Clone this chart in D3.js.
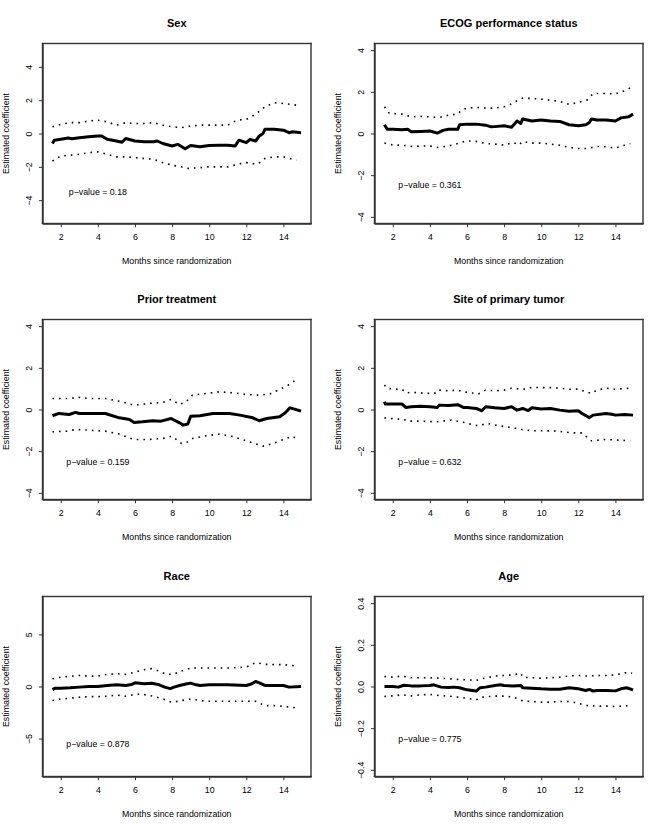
<!DOCTYPE html>
<html>
<head>
<meta charset="utf-8">
<script src="https://cdn.jsdelivr.net/npm/d3@7"></script>
<style>
  body { margin: 0; background: #fff; }
  svg { display: block; }
  text { font-family: "Liberation Sans", Arial, Helvetica, sans-serif; fill: #000; }
</style>
</head>
<body>
<div id="chart"></div>
<script>
// ---- data (months, estimated coefficient) ----
var titles = ["Sex", "ECOG performance status", "Prior treatment",
              "Site of primary tumor", "Race", "Age"];
var pValues = ["0.18", "0.361", "0.159", "0.632", "0.878", "0.775"];
var pLabelY = [-3.5, -2.45, -2.5, -2.5, -5.5, -0.25];
var yLimits = [[-5, 5], [-4, 4], [-4, 4], [-4, 4], [-8, 8], [-0.4, 0.4]];
var yTickValues = [[-4, -2, 0, 2, 4], [-4, -2, 0, 2, 4], [-4, -2, 0, 2, 4],
                   [-4, -2, 0, 2, 4], [-5, 0, 5], [-0.4, -0.2, 0, 0.2, 0.4]];
var xTickValues = [2, 4, 6, 8, 10, 12, 14];
var timeRange = [1.55, 14.95];

var sexEst = [[1.55,-0.6],[1.65,-0.4],[2.0,-0.34],[2.4,-0.27],[2.6,-0.32],[3.0,-0.25],[3.5,-0.2],[4.0,-0.15],[4.2,-0.15],[4.5,-0.35],[5.0,-0.45],[5.3,-0.52],[5.5,-0.3],[6.0,-0.45],[6.5,-0.5],[7.0,-0.5],[7.2,-0.45],[7.5,-0.6],[8.0,-0.75],[8.3,-0.65],[8.7,-0.92],[9.0,-0.72],[9.5,-0.8],[10.0,-0.72],[10.5,-0.7],[11.0,-0.7],[11.4,-0.75],[11.6,-0.4],[12.0,-0.55],[12.2,-0.35],[12.5,-0.45],[12.7,-0.15],[12.9,0],[13.0,0.25],[13.5,0.25],[14.0,0.2],[14.3,0.05],[14.5,0.1],[14.95,0.05]];
var sexUpper = [[1.55,0.4],[2.0,0.55],[2.5,0.65],[3.0,0.65],[3.5,0.75],[4.0,0.8],[4.5,0.7],[5.0,0.5],[5.5,0.65],[6.0,0.6],[6.5,0.6],[7.0,0.65],[7.5,0.5],[8.0,0.4],[8.5,0.35],[9.0,0.45],[9.5,0.5],[10.0,0.5],[10.5,0.5],[11.0,0.5],[11.5,0.8],[12.0,0.85],[12.5,1.15],[13.0,1.6],[13.5,1.85],[14.0,1.8],[14.7,1.7]];
var sexLower = [[1.55,-1.65],[2.0,-1.35],[2.5,-1.3],[3.0,-1.25],[3.5,-1.15],[4.0,-1.1],[4.5,-1.25],[5.0,-1.4],[5.5,-1.4],[6.0,-1.45],[6.5,-1.5],[7.0,-1.55],[7.5,-1.75],[8.0,-1.9],[8.5,-2.0],[8.8,-2.1],[9.5,-2.05],[10.0,-2.0],[10.5,-2.0],[11.0,-2.0],[11.5,-1.85],[12.0,-1.75],[12.6,-1.85],[13.0,-1.5],[13.5,-1.4],[14.0,-1.4],[14.7,-1.6]];

var ecogEst = [[1.55,0.42],[1.7,0.2],[2.0,0.2],[2.5,0.18],[2.8,0.2],[3.0,0.08],[3.5,0.1],[4.0,0.12],[4.4,0.02],[4.7,0.15],[5.0,0.2],[5.5,0.2],[5.6,0.42],[6.0,0.45],[6.5,0.45],[7.0,0.4],[7.3,0.32],[7.5,0.33],[8.0,0.37],[8.4,0.3],[8.7,0.6],[8.9,0.48],[9.0,0.7],[9.5,0.6],[10.0,0.65],[10.5,0.6],[11.0,0.58],[11.5,0.42],[12.0,0.37],[12.4,0.42],[12.6,0.53],[12.7,0.7],[13.0,0.65],[13.5,0.65],[14.0,0.6],[14.3,0.75],[14.7,0.8],[14.95,0.93]];
var ecogUpper = [[1.55,1.28],[1.8,0.98],[2.0,0.96],[2.5,0.93],[3.0,0.8],[3.5,0.82],[4.0,0.8],[4.5,0.77],[5.0,0.88],[5.5,0.93],[5.7,1.12],[6.0,1.22],[6.5,1.25],[7.0,1.22],[7.5,1.22],[8.0,1.28],[8.3,1.38],[8.7,1.57],[9.0,1.7],[9.5,1.68],[10.0,1.65],[10.5,1.6],[11.0,1.54],[11.5,1.4],[12.0,1.49],[12.5,1.62],[12.8,1.92],[13.5,1.92],[14.0,1.9],[14.5,2.05],[14.9,2.24]];
var ecogLower = [[1.55,-0.46],[2.0,-0.55],[2.5,-0.56],[3.0,-0.62],[3.5,-0.6],[4.0,-0.6],[4.4,-0.67],[5.0,-0.6],[5.5,-0.48],[6.0,-0.35],[6.5,-0.38],[7.0,-0.48],[7.5,-0.51],[8.0,-0.56],[8.5,-0.43],[8.8,-0.55],[9.0,-0.38],[9.5,-0.46],[10.0,-0.46],[10.5,-0.51],[11.0,-0.56],[11.5,-0.67],[12.0,-0.72],[12.5,-0.72],[13.0,-0.62],[13.5,-0.64],[14.0,-0.7],[14.5,-0.56],[14.8,-0.48]];

var priorEst = [[1.55,-0.3],[1.9,-0.19],[2.45,-0.24],[2.8,-0.14],[3.0,-0.19],[3.5,-0.19],[4.4,-0.19],[5.15,-0.4],[5.7,-0.48],[5.95,-0.62],[6.4,-0.59],[6.95,-0.54],[7.4,-0.56],[7.95,-0.43],[8.4,-0.64],[8.6,-0.75],[8.85,-0.7],[9.0,-0.32],[9.5,-0.3],[10.2,-0.19],[11.1,-0.19],[11.65,-0.27],[12.35,-0.4],[12.7,-0.54],[13.1,-0.43],[13.8,-0.35],[14.1,-0.16],[14.35,0.08],[14.6,0.02],[14.95,-0.08]];
var priorUpper = [[1.55,0.53],[2.0,0.53],[2.6,0.53],[2.8,0.6],[3.5,0.53],[4.4,0.53],[5.3,0.37],[5.95,0.2],[6.75,0.29],[7.5,0.34],[7.95,0.48],[8.4,0.24],[8.75,0.37],[9.1,0.69],[9.85,0.77],[10.55,0.85],[11.3,0.8],[12.0,0.72],[12.7,0.69],[13.25,0.74],[13.8,0.96],[14.25,1.17],[14.6,1.38]];
var priorLower = [[1.55,-1.07],[2.3,-1.04],[2.8,-0.96],[3.5,-0.99],[4.4,-1.04],[5.15,-1.18],[5.95,-1.44],[6.75,-1.44],[7.5,-1.39],[8.0,-1.28],[8.5,-1.63],[8.75,-1.6],[9.1,-1.39],[9.85,-1.26],[10.55,-1.18],[11.3,-1.31],[12.0,-1.5],[12.9,-1.76],[13.45,-1.63],[14.15,-1.39],[14.5,-1.28],[14.75,-1.44]];

var siteEst = [[1.55,0.37],[1.6,0.26],[2.0,0.26],[2.5,0.26],[2.7,0.1],[3.0,0.13],[3.5,0.16],[4.0,0.13],[4.4,0.1],[4.5,0.21],[5.0,0.19],[5.5,0.23],[5.8,0.1],[6.0,0.1],[6.5,0.05],[6.8,-0.06],[7.0,0.13],[7.5,0.08],[8.0,0.05],[8.4,0.13],[8.7,-0.03],[9.0,0.05],[9.3,-0.05],[9.5,0.08],[10.0,0.02],[10.5,0.05],[11.0,-0.03],[11.5,-0.08],[12.0,-0.06],[12.2,-0.19],[12.6,-0.39],[12.8,-0.27],[13.5,-0.19],[13.8,-0.23],[14.0,-0.27],[14.5,-0.24],[14.95,-0.27]];
var siteUpper = [[1.55,1.18],[1.7,1.02],[2.0,0.98],[2.5,0.97],[2.7,0.8],[3.0,0.82],[3.5,0.8],[4.0,0.77],[4.4,0.8],[4.5,0.93],[5.0,0.9],[5.5,0.93],[5.8,0.85],[6.2,0.8],[6.6,0.74],[7.0,0.93],[7.5,0.9],[8.0,0.93],[8.4,1.02],[9.0,0.97],[9.5,1.06],[10.0,1.05],[10.5,1.05],[11.0,1.02],[11.5,0.97],[12.0,0.98],[12.4,0.85],[12.7,0.77],[13.0,0.93],[13.5,1.02],[14.0,0.97],[14.7,1.02]];
var siteLower = [[1.55,-0.4],[1.9,-0.43],[2.6,-0.48],[2.8,-0.56],[3.5,-0.56],[4.4,-0.59],[5.15,-0.51],[5.7,-0.59],[6.25,-0.72],[6.6,-0.78],[7.1,-0.67],[7.7,-0.78],[8.4,-0.86],[8.95,-0.96],[9.5,-1.02],[10.2,-1.02],[10.9,-1.04],[11.65,-1.12],[12.2,-1.12],[12.55,-1.39],[12.7,-1.5],[13.45,-1.44],[14.15,-1.47],[14.8,-1.5]];

var raceEst = [[1.55,-0.3],[1.7,-0.16],[2.0,-0.16],[2.5,-0.13],[3.0,-0.06],[3.5,0],[4.0,0],[4.5,0.1],[5.0,0.16],[5.5,0.1],[5.8,0.19],[6.0,0.35],[6.5,0.26],[6.9,0.32],[7.3,0.16],[7.6,-0.06],[7.9,-0.2],[8.1,-0.06],[8.4,0.1],[8.8,0.26],[9.0,0.32],[9.3,0.16],[9.5,0.1],[10.0,0.16],[11.0,0.16],[12.0,0.1],[12.3,0.26],[12.5,0.48],[12.7,0.35],[13.0,0.1],[13.5,0.1],[14.0,0.1],[14.3,-0.06],[14.95,0]];
var raceUpper = [[1.55,0.74],[2.0,0.9],[2.5,0.97],[3.0,1.06],[3.5,1.0],[4.0,1.0],[4.5,1.16],[5.0,1.23],[5.5,1.16],[6.0,1.39],[6.5,1.61],[6.9,1.71],[7.3,1.48],[7.6,1.23],[8.0,1.13],[8.5,1.48],[9.0,1.77],[9.5,1.77],[10.0,1.77],[11.0,1.77],[12.0,1.87],[12.5,2.29],[13.0,2.13],[13.5,2.1],[14.0,2.1],[14.7,1.97]];
var raceLower = [[1.55,-1.35],[2.0,-1.19],[2.5,-1.13],[3.0,-1.03],[3.5,-0.97],[4.0,-0.97],[4.5,-0.94],[5.0,-0.81],[5.5,-0.94],[6.0,-0.77],[6.3,-0.71],[7.0,-0.94],[7.5,-1.19],[8.0,-1.52],[8.5,-1.35],[9.0,-1.19],[9.5,-1.35],[10.0,-1.42],[11.0,-1.42],[12.0,-1.42],[12.5,-1.42],[13.0,-1.84],[13.5,-1.84],[14.0,-1.9],[14.7,-2.06]];

var ageEst = [[1.55,0],[2.0,0],[2.3,-0.003],[2.6,0.006],[3.0,0.003],[3.5,0.003],[4.0,0.005],[4.2,0.008],[4.6,-0.003],[5.0,-0.005],[5.3,-0.003],[5.6,-0.006],[6.0,-0.016],[6.5,-0.022],[6.7,-0.006],[7.0,-0.003],[7.5,0.005],[7.8,0.008],[8.0,0.005],[8.5,0.002],[8.9,0.005],[9.0,-0.006],[9.5,-0.008],[10.0,-0.011],[10.5,-0.013],[11.0,-0.013],[11.5,-0.006],[12.0,-0.011],[12.4,-0.019],[12.6,-0.014],[12.8,-0.022],[13.0,-0.019],[13.5,-0.019],[14.0,-0.021],[14.3,-0.011],[14.6,-0.006],[14.95,-0.016]];
var ageUpper = [[1.55,0.048],[2.0,0.045],[2.5,0.05],[3.0,0.042],[3.5,0.042],[4.0,0.042],[4.5,0.04],[5.0,0.037],[5.5,0.034],[6.0,0.032],[6.5,0.029],[6.8,0.037],[7.5,0.05],[8.0,0.053],[8.5,0.056],[8.9,0.064],[9.0,0.045],[9.5,0.042],[10.0,0.04],[10.5,0.042],[11.0,0.045],[11.5,0.05],[12.0,0.053],[12.5,0.05],[13.0,0.053],[13.5,0.053],[14.0,0.056],[14.5,0.066],[14.9,0.064]];
var ageLower = [[1.55,-0.048],[2.0,-0.045],[2.5,-0.04],[3.0,-0.045],[3.5,-0.04],[4.0,-0.038],[4.5,-0.043],[5.0,-0.046],[5.5,-0.051],[6.0,-0.056],[6.5,-0.064],[6.8,-0.051],[7.5,-0.046],[8.0,-0.046],[8.5,-0.051],[8.9,-0.064],[9.0,-0.07],[9.5,-0.072],[10.0,-0.075],[10.5,-0.075],[11.0,-0.072],[11.5,-0.072],[12.0,-0.08],[12.4,-0.091],[13.0,-0.094],[13.5,-0.094],[14.0,-0.096],[14.9,-0.091]];

var estimates = [sexEst, ecogEst, priorEst, siteEst, raceEst, ageEst];
var uppers = [sexUpper, ecogUpper, priorUpper, siteUpper, raceUpper, ageUpper];
var lowers = [sexLower, ecogLower, priorLower, siteLower, raceLower, ageLower];

// ---- layout ----
var W = 664, H = 830;
var panelW = W / 2, panelH = H / 3;
var margin = {top: 42.5, right: 21, bottom: 54.5, left: 42.5};
var pw = panelW - margin.left - margin.right;
var ph = Math.round(panelH - margin.top - margin.bottom);
var fs = 8.8;

var svg = d3.select("#chart").append("svg")
  .attr("width", W).attr("height", H);

// R style 4% padding on the axis ranges
function pad(r) { var d = (r[1] - r[0]) * 0.04; return [r[0] - d, r[1] + d]; }

var x = d3.scaleLinear().domain(pad(timeRange)).range([0, pw]);

titles.forEach(function(title, i) {
  var col = i % 2, row = Math.floor(i / 2);
  var top = Math.round(row * panelH + margin.top) + 0.5;
  var g = svg.append("g")
    .attr("transform", "translate(" + (col * panelW + margin.left) + "," + top + ")");

  var y = d3.scaleLinear().domain(pad(yLimits[i])).range([ph, 0]);
  var line = d3.line()
    .x(function(d) { return x(d[0]); })
    .y(function(d) { return y(d[1]); });

  // box around the plot region, as thin filled strips (top, right, bottom, left)
  var bw = 1.4;
  var strips = [
    {x: -bw / 2, y: -bw / 2, w: pw + bw, h: bw},
    {x: pw - bw / 2, y: -bw / 2, w: bw, h: ph + bw},
    {x: -bw / 2, y: ph - bw / 2, w: pw + bw, h: bw},
    {x: -bw / 2, y: -bw / 2, w: bw, h: ph + bw}
  ];
  g.selectAll("rect.frame")
    .data(strips)
    .enter().append("rect")
    .attr("class", "frame")
    .attr("x", function(d) { return d.x; })
    .attr("y", function(d) { return d.y; })
    .attr("width", function(d) { return d.w; })
    .attr("height", function(d) { return d.h; })
    .attr("fill", "#333");

  // axes
  var fmt = i === 5 ? d3.format(".1f") : d3.format("d");
  var xAxis = g.append("g")
    .attr("transform", "translate(0," + ph + ")")
    .call(d3.axisBottom(x).tickValues(xTickValues).tickSize(3.7).tickSizeOuter(0).tickPadding(7));
  xAxis.selectAll("text").attr("font-size", fs).attr("dy", "0.71em")
    .style("font-family", "'Liberation Sans', Arial, sans-serif");

  var yAxis = g.append("g")
    .call(d3.axisLeft(y).tickValues(yTickValues[i]).tickSize(3.6).tickSizeOuter(0).tickFormat(fmt));
  yAxis.selectAll(".tick text")
    .attr("font-size", fs)
    .attr("x", 0).attr("y", -11).attr("dy", null)
    .attr("text-anchor", "middle")
    .attr("transform", "rotate(-90)")
    .style("font-family", "'Liberation Sans', Arial, sans-serif");

  [xAxis, yAxis].forEach(function(a) {
    a.select(".domain").attr("stroke", "#333").attr("stroke-width", 1.4);
    a.selectAll(".tick line").attr("stroke", "#333");
  });

  // bands
  [uppers[i], lowers[i]].forEach(function(band) {
    g.append("path")
      .datum(band)
      .attr("d", line)
      .attr("fill", "none")
      .attr("stroke", "#000")
      .attr("stroke-width", 1.6)
      .attr("stroke-dasharray", "1.6,5");
  });

  // estimate
  g.append("path")
    .datum(estimates[i])
    .attr("d", line)
    .attr("fill", "none")
    .attr("stroke", "#000")
    .attr("stroke-width", 3)
    .attr("stroke-linejoin", "round");

  // p-value
  g.append("text")
    .attr("x", x(4))
    .attr("y", y(pLabelY[i]) + 3.2)
    .attr("text-anchor", "middle")
    .attr("font-size", fs)
    .text("p\u2212value = " + pValues[i]);

  // titles
  g.append("text")
    .attr("x", pw / 2).attr("y", 25.7 - margin.top)
    .attr("text-anchor", "middle")
    .attr("font-size", 11)
    .attr("font-weight", "bold")
    .text(title);

  g.append("text")
    .attr("x", pw / 2).attr("y", ph + 40.4)
    .attr("text-anchor", "middle")
    .attr("font-size", fs)
    .text("Months since randomization");

  g.append("text")
    .attr("transform", "translate(" + (9.3 - margin.left) + "," + (ph / 2) + ") rotate(-90)")
    .attr("text-anchor", "middle")
    .attr("font-size", fs)
    .text("Estimated coefficient");
});
</script>
</body>
</html>
